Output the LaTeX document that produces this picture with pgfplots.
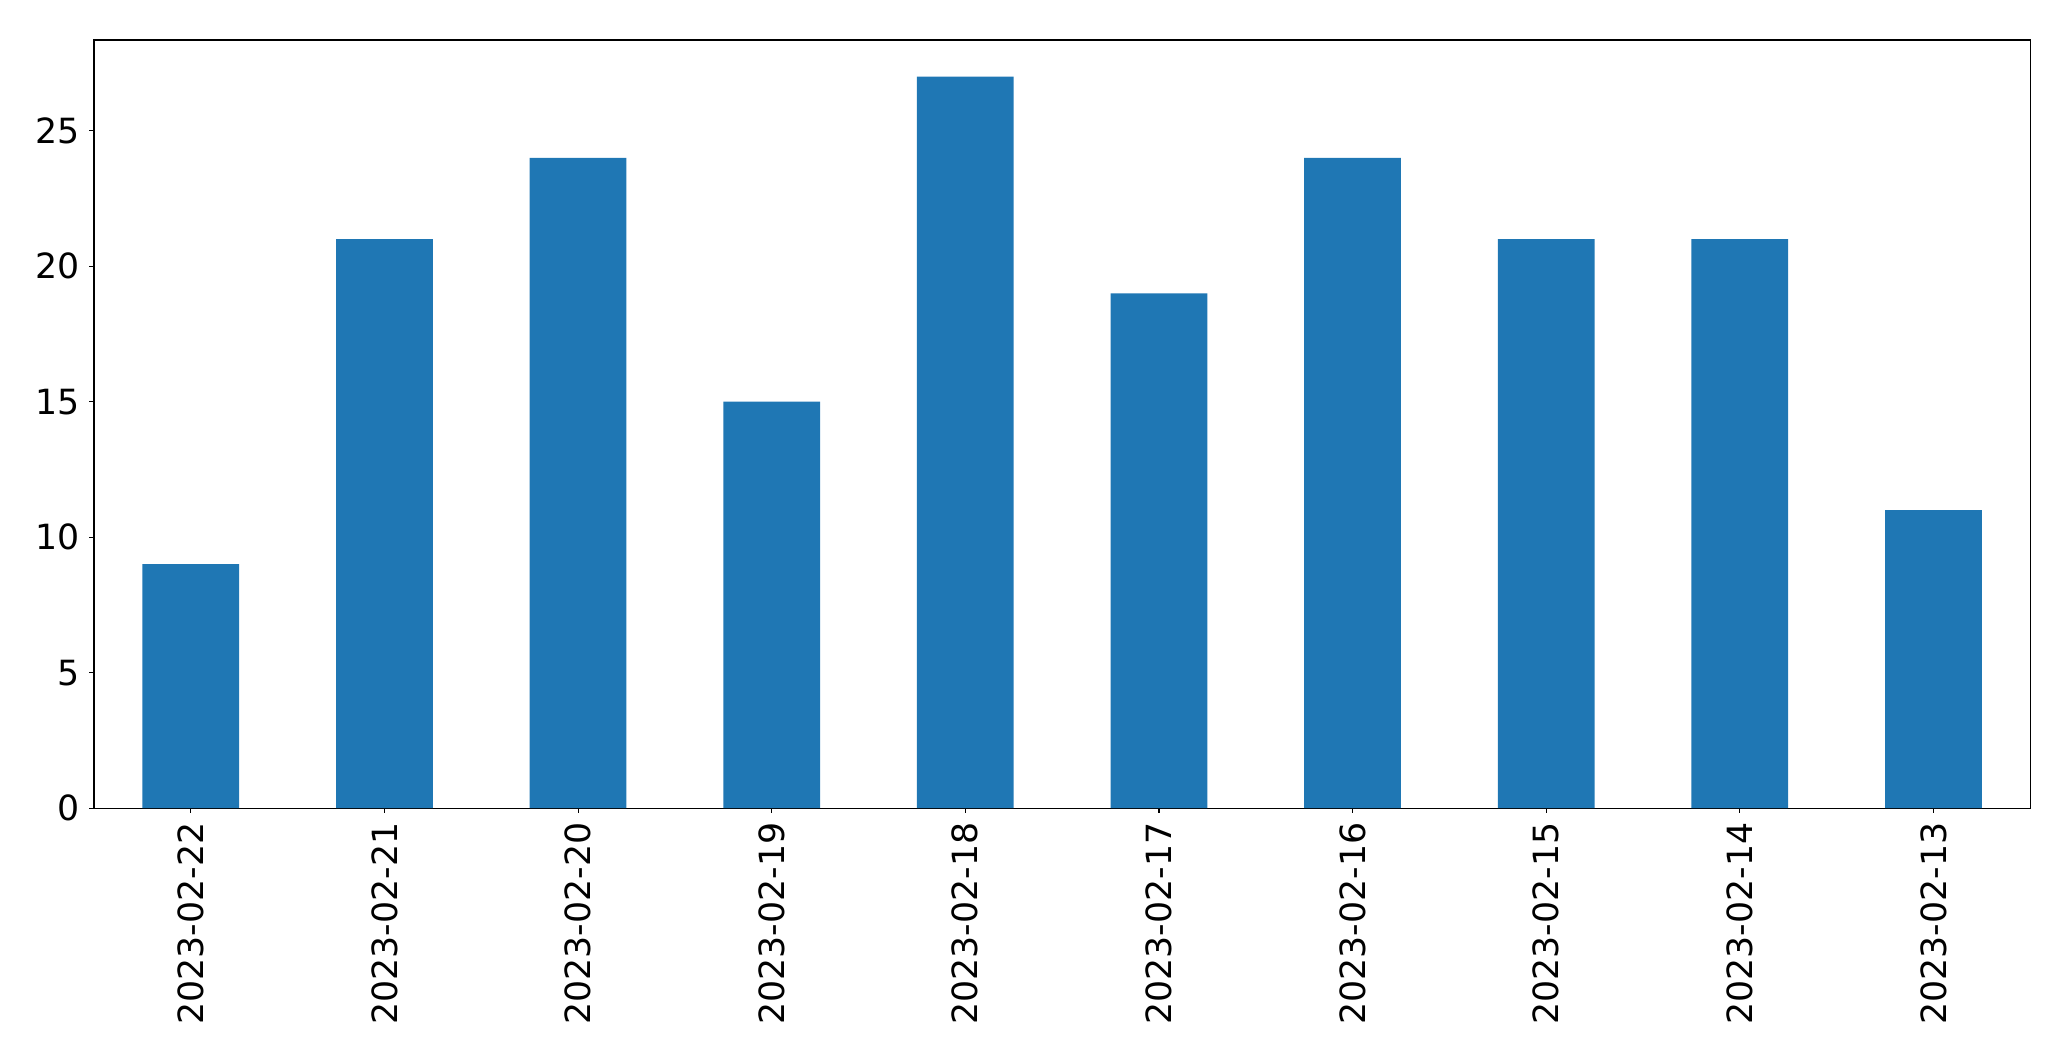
\documentclass[border=0pt]{standalone}
\usepackage{pgfplots}
\pgfplotsset{compat=1.18}
\usepackage{fontspec}
\setmainfont{DejaVu Sans}
\usetikzlibrary{calc}
\definecolor{mplblue}{HTML}{1F77B4}

\begin{document}
\begin{tikzpicture}
\begin{axis}[
    scale only axis,
    width=1394pt, height=553pt,
    xmin=-0.5, xmax=9.5,
    ymin=0, ymax=28.35,
    xtick={0,...,9},
    xticklabels={2023-02-22,2023-02-21,2023-02-20,2023-02-19,2023-02-18,2023-02-17,2023-02-16,2023-02-15,2023-02-14,2023-02-13},
    ytick={0,5,10,15,20,25},
    x tick label style={rotate=90, anchor=east},
    tick label style={font=\fontsize{25}{29}\selectfont},
    /pgf/number format/assume math mode=true,
    tick align=outside,
    major tick length=3.5pt,
    tick style={black, line width=0.8pt},
    axis line style={line width=0.8pt},
    xtick pos=bottom, ytick pos=left,
    xticklabel shift=3.5pt, yticklabel shift=3.5pt,
]
\addplot[ybar, bar width=0.5, fill=mplblue, draw=none] coordinates {
    (0,9) (1,21) (2,24) (3,15) (4,27)
    (5,19) (6,24) (7,21) (8,21) (9,11)
};
\coordinate (O) at (rel axis cs:0,0);
\end{axis}
\path[use as bounding box] ($(O)+(-67.7pt,-182.2pt)$) rectangle ($(O)+(1423.4pt,581.8pt)$);
\end{tikzpicture}
\end{document}
